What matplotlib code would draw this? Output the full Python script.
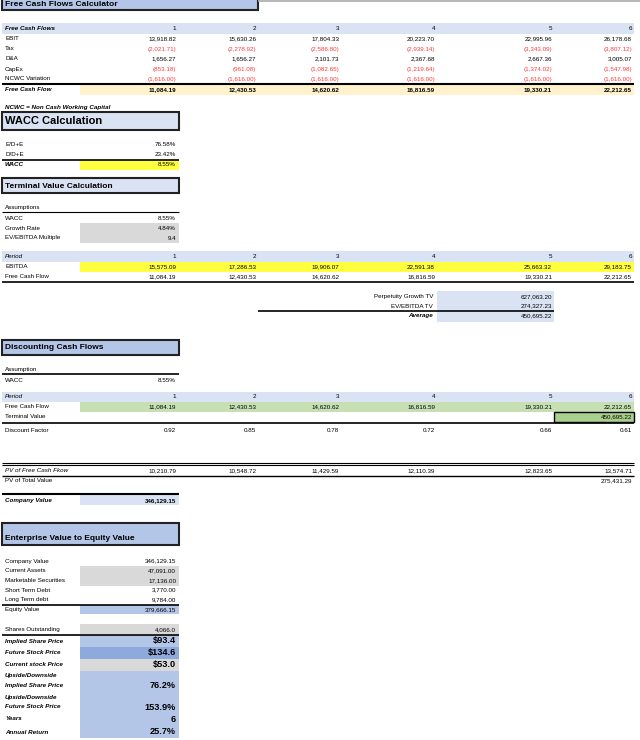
import matplotlib
matplotlib.use("Agg")
from matplotlib import pyplot as plt
from matplotlib.patches import Rectangle

# ---- data ----
periods = [1, 2, 3, 4, 5, 6]
ebit = [13918.82, 15630.26, 17804.33, 20223.70, 22995.96, 26178.68]
tax = [-2021.71, -2278.92, -2586.80, -2939.14, -3343.09, -3807.12]
dna = [1656.27, 1656.27, 2101.73, 2367.68, 2667.36, 3005.07]
capex = [-853.18, -961.08, -1082.65, -1219.64, -1374.02, -1547.98]
ncwc = [-1616.00, -1616.00, -1616.00, -1616.00, -1616.00, -1616.00]
fcf = [11084.19, 12430.53, 14620.62, 16816.59, 19330.21, 22212.65]
ebitda = [15575.09, 17286.53, 19906.07, 22591.38, 25663.32, 29183.75]
discount_factor = [0.92, 0.85, 0.78, 0.72, 0.66, 0.61]
pv_fcf = [10210.79, 10548.72, 11429.59, 12110.39, 12823.65, 13574.71]
pv_total = 275431.29

wacc_labels = ["E/D+E", "D/D+E"]
wacc_values = ["76.58%", "23.42%"]
wacc = "8.55%"
growth_rate = "4.84%"
ev_multiple = "9.4"
tv_labels = ["Perpetuity Growth TV", "EV/EBITDA TV", "Average"]
tv_values = [627063.20, 274327.23, 450695.22]
company_value = 346129.15

eq_labels = ["Company Value", "Current Assets", "Marketable Securities",
             "Short Term Debt", "Long Term debt", "Equity Value"]
eq_values = [346129.15, 47091.00, 17136.00, 3770.00, 9784.00, 379666.15]
shares_out = "4,066.0"
price_labels = ["Implied Share Price", "Future Stock Price", "Current stock Price",
                "Upside/Downside\nImplied Share Price", "Upside/Downside\nFuture Stock Price",
                "Years", "Annual Return"]
price_values = ["$93.4", "$134.6", "$53.0", "76.2%", "153.9%", "6", "25.7%"]

# ---- styling ----
FONT = "Liberation Sans"
FS = 4.5
RED = "#ff3b3b"
LBLUE = "#dae3f3"
MBLUE = "#b4c6e7"
DBLUE = "#8ea9db"
GRAY = "#d9d9d9"
YELLOW = "#ffff40"
CREAM = "#fff2cc"
GREEN = "#c6e0b4"
DGREEN = "#a9d08e"

col_right = [176, 256, 339, 435, 552, 632]

fig = plt.figure(figsize=(6.4, 7.4), dpi=100)
ax = fig.add_axes([0, 0, 1, 1])
ax.set_xlim(0, 640)
ax.set_ylim(740, 0)
ax.axis("off")


def fmt(v):
    s = f"{abs(v):,.2f}"
    return f"({s})" if v < 0 else s


def txt(x, y, s, ha="left", **kw):
    kw.setdefault("fontsize", FS)
    kw.setdefault("family", FONT)
    ax.text(x, y, s, ha=ha, va="center", **kw)


def fill(x0, x1, y0, y1, color, ec="none", lw=0):
    ax.add_patch(Rectangle((x0, y0), x1 - x0, y1 - y0, facecolor=color,
                           edgecolor=ec, linewidth=lw, zorder=0 if ec == "none" else 1))


def hline(y, x0=2, x1=634, lw=1.0, color="black"):
    ax.plot([x0, x1], [y, y], color=color, lw=lw, solid_capstyle="butt")


def title_box(x0, x1, y0, y1, s, color, size, ty=None):
    fill(x0, x1, y0, y1, color, ec="#222222", lw=1.5)
    txt(x0 + 3, (y0 + y1) / 2 if ty is None else ty, s, fontsize=size,
        weight="bold", zorder=3)


def row_values(y, vals, color="black", bold=False, f=fmt):
    for x, v in zip(col_right, vals):
        txt(x, y, f(v), ha="right", color=color, weight="bold" if bold else "normal")


# ---- Free Cash Flows Calculator ----
hline(0.8, 258, 640, lw=1.2, color="#aaaaaa")
title_box(2, 258, -3, 10, "Free Cash Flows Calculator", MBLUE, 6.1, ty=4)

fill(2, 634, 23, 34, LBLUE)
txt(5, 29, "Free Cash Flows", weight="bold", style="italic")
row_values(29, periods, f=str)

for y, lab, vals in [(39, "EBIT", ebit), (49, "Tax", tax), (59, "D&A", dna),
                     (69, "CapEx", capex), (79, "NCWC Variation", ncwc)]:
    txt(5, y, lab)
    row_values(y, vals, color=RED if vals[0] < 0 else "black")
hline(83.5, lw=1.5)
fill(80, 634, 84, 95, CREAM)
txt(5, 89.5, "Free Cash Flow", weight="bold", style="italic")
row_values(89.5, fcf, bold=True)

txt(5, 108, "NCWC = Non Cash Working Capital", weight="bold", style="italic")

# ---- WACC ----
title_box(2, 179, 112, 130, "WACC Calculation", LBLUE, 8.0, ty=121.5)
for y, lab, v in zip([145, 155], wacc_labels, wacc_values):
    txt(5, y, lab)
    txt(176, y, v, ha="right")
hline(159.5, 2, 179, lw=1.2)
fill(80, 179, 160, 170, YELLOW)
txt(5, 165, "WACC", weight="bold", style="italic")
txt(176, 165, wacc, ha="right")

# ---- Terminal Value ----
title_box(2, 179, 178, 193, "Terminal Value Calculation", LBLUE, 6.0, ty=186)
txt(5, 208, "Assumptions")
hline(211.5, 2, 179, lw=0.8)
fill(80, 179, 223, 243, GRAY)
for y, lab, v in [(218, "WACC", wacc), (228, "Growth Rate", growth_rate),
                  (238, "EV/EBITDA Multiple", ev_multiple)]:
    txt(5, y, lab)
    txt(176, y, v, ha="right")

fill(2, 634, 251, 262, LBLUE)
txt(5, 256.5, "Period", style="italic")
row_values(256.5, periods, f=str)
fill(80, 634, 262, 272, YELLOW)
txt(5, 267, "EBITDA")
row_values(267, ebitda)
txt(5, 277, "Free Cash Flow")
row_values(277, fcf)
hline(282, lw=1.2)

fill(437, 554, 291, 322, LBLUE)
for y, lab, v in zip([296.5, 306, 316], tv_labels, tv_values):
    bold = lab == "Average"
    txt(433, y, lab, ha="right", weight="bold" if bold else "normal",
        style="italic" if bold else "normal")
    txt(552, y, fmt(v), ha="right")
hline(311, 258, 554, lw=1.2)

# ---- Discounting Cash Flows ----
title_box(2, 179, 340, 355, "Discounting Cash Flows", MBLUE, 6.0, ty=347.5)
txt(5, 370, "Assumption")
hline(373.5, 2, 179, lw=1.2)
txt(5, 380, "WACC")
txt(176, 380, wacc, ha="right")

fill(2, 634, 392, 402, LBLUE)
txt(5, 397, "Period", style="italic")
row_values(397, periods, f=str)
fill(80, 634, 402, 412, GREEN)
txt(5, 407, "Free Cash Flow")
row_values(407, fcf)
txt(5, 417, "Terminal Value")
fill(554, 634, 412, 422, DGREEN, ec="black", lw=1.0)
txt(632, 417, fmt(tv_values[2]), ha="right", zorder=3)
hline(422.5, lw=1.2)
txt(5, 430, "Discount Factor")
row_values(430, discount_factor)

hline(462.5, lw=0.8)
hline(464.5, lw=0.8)
txt(5, 470.5, "PV of Free Cash Fkow", style="italic")
row_values(470.5, pv_fcf)
hline(475.5, lw=1.0)
txt(5, 481, "PV of Total Value")
txt(632, 481, fmt(pv_total), ha="right")

hline(493.5, 2, 179, lw=1.5)
fill(80, 179, 495, 505, LBLUE)
txt(5, 500.5, "Company Value", weight="bold", style="italic")
txt(176, 500.5, fmt(company_value), ha="right", weight="bold")

# ---- Enterprise Value to Equity Value ----
title_box(2, 179, 523, 545, "Enterprise Value to Equity Value", MBLUE, 6.0, ty=539)
fill(80, 179, 566, 586, GRAY)
for i, (lab, v) in enumerate(zip(eq_labels, eq_values)):
    y = 561 + 9.7 * i
    txt(5, y, lab)
    txt(176, y, fmt(v), ha="right")
hline(604.5, 2, 179, lw=1.2)
fill(80, 179, 605, 614, MBLUE)

fill(80, 179, 624, 634, GRAY)
txt(5, 630, "Shares Outstanding")
txt(176, 630, shares_out, ha="right")
hline(634.5, 2, 179, lw=1.2)

price_y = [641, 653, 665, 685, 707, 719, 732]
price_fill = [(635, 647, MBLUE), (647, 659, DBLUE), (659, 671, GRAY), (671, 738, MBLUE)]
for y0, y1, c in price_fill:
    fill(80, 179, y0, y1, c)
for y, lab, v in zip(price_y, price_labels, price_values):
    parts = lab.split("\n")
    if len(parts) == 2:
        txt(5, y - 10, parts[0], weight="bold", style="italic")
    txt(5, y, parts[-1], weight="bold", style="italic")
    txt(176, y, v, ha="right", weight="bold", fontsize=6.6)

fig.savefig("out.png", dpi=100)
